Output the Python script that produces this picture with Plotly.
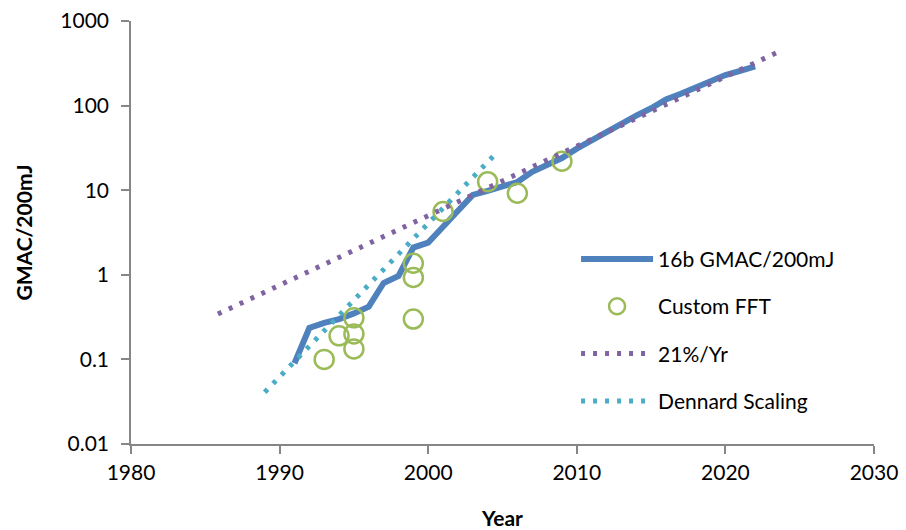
import plotly.graph_objects as go

# ---- data ----
gmac_years = [1991, 1992, 1993, 1994, 1995, 1996, 1997, 1998, 1999, 2000,
              2001, 2002, 2003, 2004, 2005, 2006, 2007, 2008, 2009, 2010,
              2011, 2012, 2013, 2014, 2015, 2016, 2017, 2018, 2019, 2020,
              2021, 2022]
gmac_vals = [0.09, 0.235, 0.27, 0.30, 0.35, 0.42, 0.80, 0.97, 2.1, 2.4,
             3.7, 5.7, 8.8, 9.8, 11, 12.5, 16.5, 19.5, 24, 31,
             39, 49, 63, 76, 93, 118, 138, 165, 195, 230,
             258, 290]

fft_years = [1993, 1994, 1995, 1995, 1995, 1999, 1999, 1999, 2001, 2004, 2006, 2009]
fft_vals = [0.10, 0.19, 0.31, 0.20, 0.133, 1.37, 0.93, 0.30, 5.6, 12.6, 9.2, 22]

trend_years = [1985.85, 2023.4]
trend_vals = [0.344, 418]

dennard_years = [1989, 2004.5]
dennard_vals = [0.041, 26.5]

x_ticks = [1980, 1990, 2000, 2010, 2020, 2030]
y_ticks = [0.01, 0.1, 1, 10, 100, 1000]
y_ticktext = ["0.01", "0.1", "1", "10", "100", "1000"]

BLUE = "#4F81BD"
GREEN = "#9BBB59"
PURPLE = "#8064A2"
CYAN = "#4BACC6"
AXIS = "#868686"
FONT = "Lato"

fig = go.Figure()
fig.add_trace(go.Scatter(x=gmac_years, y=gmac_vals, mode="lines",
                         name="16b GMAC/200mJ", legendgroup="a",
                         line=dict(color=BLUE, width=6)))
fig.add_trace(go.Scatter(x=fft_years, y=fft_vals, mode="markers",
                         name="Custom FFT", legendgroup="b",
                         marker=dict(symbol="circle-open", size=19, color=GREEN,
                                     line=dict(width=2.5, color=GREEN))))
fig.add_trace(go.Scatter(x=trend_years, y=trend_vals, mode="lines",
                         name="21%/Yr", legendgroup="c",
                         line=dict(color=PURPLE, width=5, dash="4px,8px")))
fig.add_trace(go.Scatter(x=dennard_years, y=dennard_vals, mode="lines",
                         name="Dennard Scaling", legendgroup="d",
                         line=dict(color=CYAN, width=5, dash="4px,8px")))

fig.update_layout(
    width=906, height=530,
    margin=dict(l=131, r=32, t=21, b=86, autoexpand=False),
    paper_bgcolor="white", plot_bgcolor="white",
    font=dict(family=FONT, size=21, color="black"),
    showlegend=True,
    legend=dict(x=0.599, y=0.485, xanchor="left", yanchor="top",
                bgcolor="rgba(0,0,0,0)", itemwidth=72,
                tracegroupgap=17, font=dict(family=FONT, size=21, color="black")),
    xaxis=dict(range=[1980, 2030], tickvals=x_ticks, showgrid=False,
               zeroline=False, showline=True, linecolor=AXIS, linewidth=1.5,
               ticks="outside", ticklen=8, tickcolor=AXIS, tickwidth=1.5,
               ticklabelstandoff=1, automargin=False,
               title=dict(text="<b>Year</b>", font=dict(family=FONT, size=21),
                          standoff=34)),
    yaxis=dict(type="log", range=[-2, 3], tickvals=y_ticks, ticktext=y_ticktext,
               showgrid=False, zeroline=False, showline=True, linecolor=AXIS,
               linewidth=1.5, ticks="outside", ticklen=8, tickcolor=AXIS,
               tickwidth=1.5, ticklabelstandoff=8, automargin=False,
               title=dict(text="<b>GMAC/200mJ</b>", font=dict(family=FONT, size=21),
                          standoff=22)),
)

fig.write_html("out.html")
